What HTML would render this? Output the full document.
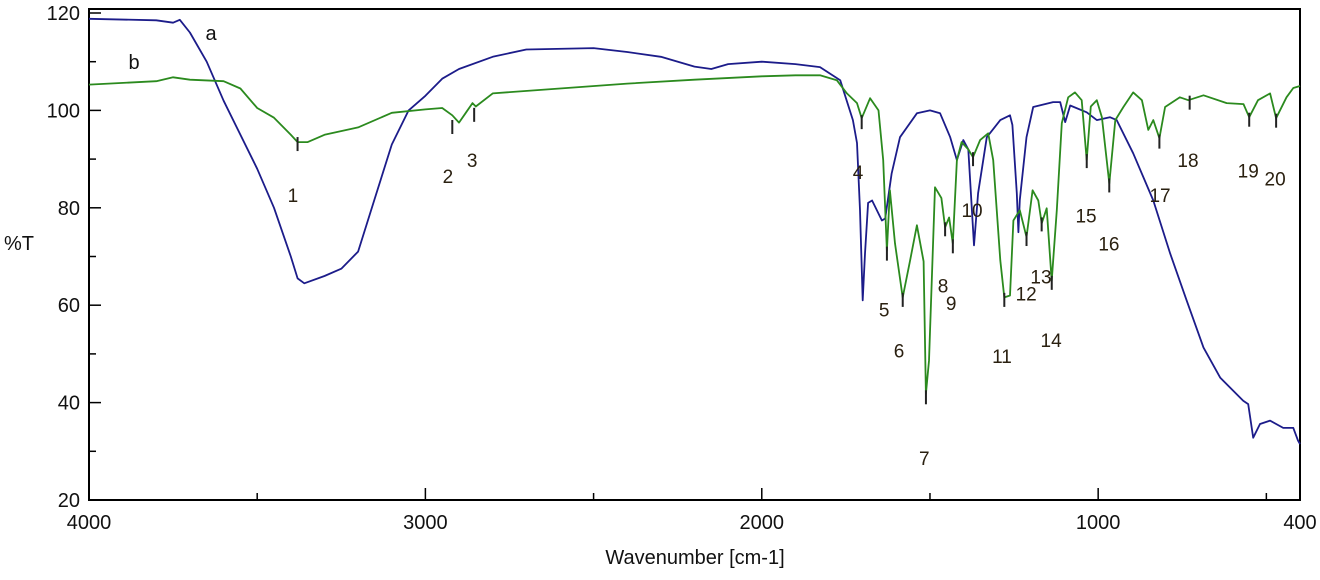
<!DOCTYPE html>
<html><head><meta charset="utf-8"><style>
body{margin:0;background:#fff}
svg{display:block;font-family:"Liberation Sans",sans-serif}
</style></head><body>
<svg id="chart" width="1320" height="580" viewBox="0 0 1320 580"></svg>
<script>
const xTicksMajor=[4000,3000,2000,1000,400];
const xTicksMinor=[3500,2500,1500,500];
const yTicksMajor=[120,100,80,60,40,20];
const yTicksMinor=[110,90,70,50,30];
const waveA=[4000,3800,3750,3730,3700,3650,3600,3500,3450,3400,3380,3360,3300,3250,3200,3150,3100,3050,3000,2950,2900,2800,2700,2500,2400,2300,2200,2150,2100,2000,1900,1827,1767,1729,1717,1708,1700,1693,1684,1672,1643,1633,1614,1589,1539,1500,1470,1440,1420,1401,1386,1369,1357,1331,1291,1262,1255,1242,1237,1233,1213,1193,1134,1113,1098,1083,1034,1004,965,945,896,836,786,737,687,637,569,554,539,519,489,450,420,406,400];
const transA=[118.8,118.5,118,118.6,116,110,102,88,80,70,65.5,64.5,66,67.5,71,82,93,100,103,106.5,108.5,111,112.5,112.8,112,111,109,108.5,109.5,110,109.5,108.9,106.2,98,93.3,79.5,61,70.6,81,81.5,77.4,77.8,87,94.5,99.4,100,99.4,94.5,89.8,93.9,92,72.3,83,94.5,98,99,97,83,75,81.6,94.5,100.7,101.7,101.7,97.6,101,99.6,98,98.6,98,91.2,81.5,70.6,61,51.3,45.1,40.4,39.7,32.8,35.6,36.3,34.8,34.8,32.2,31.5];
const waveB=[4000,3800,3750,3700,3600,3550,3500,3450,3400,3380,3350,3300,3200,3100,3000,2950,2920,2900,2880,2860,2850,2800,2600,2400,2200,2000,1900,1827,1777,1747,1717,1703,1678,1653,1639,1628,1619,1604,1581,1559,1539,1519,1512,1503,1485,1466,1455,1443,1432,1420,1406,1386,1372,1351,1327,1312,1291,1279,1262,1252,1233,1213,1195,1178,1168,1153,1138,1123,1108,1089,1069,1049,1034,1022,1004,989,967,949,925,896,870,851,836,818,801,757,732,687,618,568,551,525,489,471,440,420,400];
const transB=[105.3,106,106.8,106.3,106,104.5,100.5,98.5,95,93.5,93.5,95,96.5,99.5,100.2,100.5,99,97.5,99.5,101.5,100.8,103.5,104.5,105.5,106.3,107,107.2,107.2,106.2,103.5,101.5,98.4,102.5,100,89.8,71.2,83.6,72.7,61.6,69.2,76.4,69,41.8,48.6,84.2,82,76,78,72.7,89.8,93.5,92,90.4,93.9,95.3,89.8,69.2,61.6,62,77.4,79.5,74,83.6,81.5,76.8,79.9,65,79.5,97.4,102.7,103.7,102.1,89.8,100.8,102.1,98.6,85,98,100.7,103.7,102.1,96,98,94.3,100.7,102.7,102.1,103.1,101.5,101.3,98.6,102.1,103.5,98.4,102.7,104.6,105];
const peakLabels=["1","2","3","4","5","6","7","8","9","10","11","12","13","14","15","16","17","18","19","20"];
const peakWave=[3380,2920,2855,1703,1628,1581,1512,1455,1432,1372,1279,1213,1168,1138,1034,967,818,728,551,471];
const peakTrans=[93.5,97,99.5,98,71,61.5,41.5,76,72.5,90.4,61.5,74,77,65,90,85,94,102,98.5,98.3];
const labelWave=[3394,2933,2861,1714,1636,1592,1517,1461,1437,1375,1286,1214,1170,1140,1036,968,816,733,554,474];
const labelTrans=[82.6,86.5,89.8,87.3,59.1,50.7,28.6,64,60.5,79.5,49.6,62.4,65.9,52.9,78.4,72.7,82.6,89.8,87.7,86];

const L=89,R=1300,T=9,B=500;
const xs=w=>L+(4000-w)/3600*(R-L);
const ys=v=>T+4+(120-v)/100*(B-T-4);
const svg=document.getElementById('chart');
const NS='http://www.w3.org/2000/svg';
function mk(tag,attrs,parent){const e=document.createElementNS(NS,tag);for(const k in attrs)e.setAttribute(k,attrs[k]);(parent||svg).appendChild(e);return e;}

const frame=mk('rect',{x:L,y:T,width:R-L,height:B-T,fill:'none',stroke:'#000','stroke-width':2});



yTicksMajor.forEach(v=>{
  const t=mk('line',{x1:L,x2:L+12,y1:ys(v),y2:ys(v),stroke:'#000','stroke-width':1.5});
  
  
  const tx=mk('text',{x:L-9,y:ys(v)+7,'text-anchor':'end','font-size':20,fill:'#111'});
  tx.textContent=v;
  
  
});
yTicksMinor.forEach(v=>{
  const t=mk('line',{x1:L,x2:L+7,y1:ys(v),y2:ys(v),stroke:'#000','stroke-width':1.5});
  
  
});
xTicksMajor.forEach(w=>{
  const t=mk('line',{x1:xs(w),x2:xs(w),y1:B,y2:B-12,stroke:'#000','stroke-width':1.5});
  
  
  const tx=mk('text',{x:xs(w),y:B+29,'text-anchor':'middle','font-size':20,fill:'#111'});
  tx.textContent=w;
  
  
});
xTicksMinor.forEach(w=>{
  const t=mk('line',{x1:xs(w),x2:xs(w),y1:B,y2:B-7,stroke:'#000','stroke-width':1.5});
  
  
});

const yt=mk('text',{x:4,y:250,'font-size':20,fill:'#111'});
yt.textContent='%T';


const xt=mk('text',{x:695,y:564,'text-anchor':'middle','font-size':20,fill:'#111'});
xt.textContent='Wavenumber [cm-1]';



function line(ws,vs,color,name){
  const d=ws.map((w,i)=>(i?'L':'M')+xs(w).toFixed(1)+' '+ys(vs[i]).toFixed(1)).join(' ');
  const p=mk('path',{d:d,fill:'none',stroke:color,'stroke-width':1.8,'stroke-linejoin':'round'});
  
  
}
line(waveA,transA,'#1c1c8a','series-a-line');
line(waveB,transB,'#2b8a1e','series-b-line');

peakWave.forEach((w,i)=>{
  const m=mk('line',{x1:xs(w),x2:xs(w),y1:ys(peakTrans[i])-5,y2:ys(peakTrans[i])+9,stroke:'#222','stroke-width':2});
  
  
  const tx=mk('text',{x:xs(labelWave[i]),y:ys(labelTrans[i])+7,'text-anchor':'middle','font-size':19,fill:'#2a2010'});
  tx.textContent=peakLabels[i];
  
  
});

const la=mk('text',{x:211,y:40,'text-anchor':'middle','font-size':20,fill:'#111'});
la.textContent='a';


const lb=mk('text',{x:134,y:69,'text-anchor':'middle','font-size':20,fill:'#111'});
lb.textContent='b';


</script>
</body></html>
